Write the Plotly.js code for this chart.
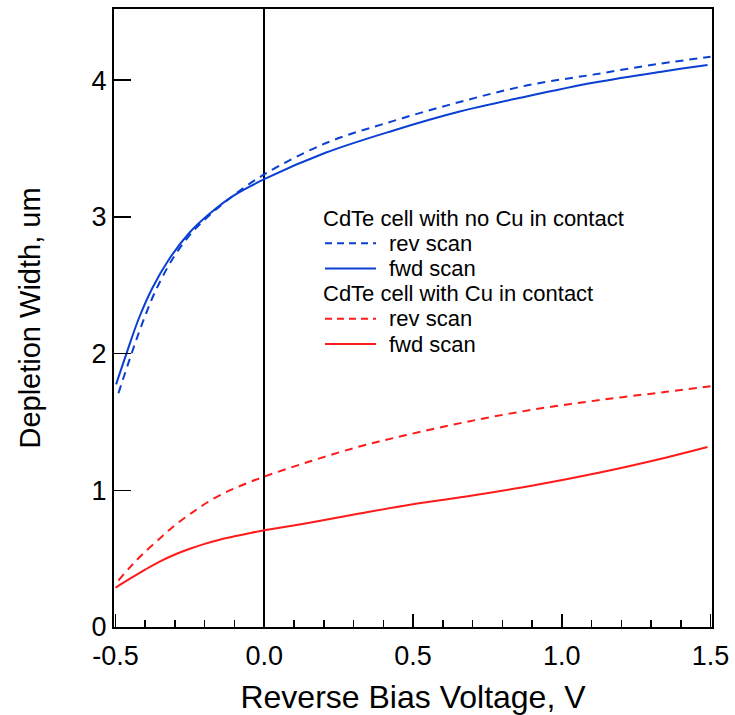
<!DOCTYPE html>
<html>
<head>
<meta charset="utf-8">
<script src="https://cdn.plot.ly/plotly-3.0.1.min.js"></script>
<style>html,body{margin:0;padding:0;background:#fff;}#chart{width:735px;height:715px;}</style>
</head>
<body>
<div id="chart"></div>
<script>
// Blue: CdTe cell with no Cu in contact
const noCuRevX = [-0.49, -0.449, -0.41, -0.365, -0.303, -0.241, -0.185, -0.107, 0.0, 0.208, 0.432, 0.657, 0.881, 1.105, 1.33, 1.5];
const noCuRevY = [1.71, 1.98, 2.22, 2.46, 2.71, 2.89, 3.01, 3.15, 3.31, 3.54, 3.70, 3.84, 3.96, 4.04, 4.12, 4.17];
const noCuFwdX = [-0.498, -0.46, -0.421, -0.376, -0.32, -0.253, -0.185, -0.107, 0.0, 0.208, 0.432, 0.657, 0.881, 1.105, 1.33, 1.49];
const noCuFwdY = [1.775, 2.02, 2.26, 2.48, 2.69, 2.88, 3.02, 3.15, 3.275, 3.47, 3.63, 3.77, 3.88, 3.98, 4.06, 4.11];
// Red: CdTe cell with Cu in contact
const cuRevX = [-0.49, -0.45, -0.41, -0.35, -0.297, -0.24, -0.185, -0.12, -0.06, 0.0, 0.152, 0.32, 0.47, 0.679, 0.903, 1.128, 1.352, 1.5];
const cuRevY = [0.34, 0.44, 0.53, 0.65, 0.75, 0.84, 0.92, 0.995, 1.05, 1.10, 1.21, 1.32, 1.40, 1.50, 1.59, 1.66, 1.72, 1.76];
const cuFwdX = [-0.5, -0.45, -0.4, -0.35, -0.3, -0.25, -0.2, -0.15, -0.1, -0.05, 0.0, 0.152, 0.32, 0.47, 0.679, 0.903, 1.128, 1.352, 1.49];
const cuFwdY = [0.287, 0.355, 0.42, 0.48, 0.53, 0.572, 0.608, 0.638, 0.663, 0.686, 0.707, 0.763, 0.83, 0.887, 0.955, 1.035, 1.13, 1.24, 1.316];

const xTickVals = [-0.5, 0, 0.5, 1, 1.5];
const xTickText = ["-0.5", "0.0", "0.5", "1.0", "1.5"];

const groupNoCu = "CdTe cell with no Cu in contact";
const groupCu = "CdTe cell with Cu in contact";
const seriesName = ["rev scan", "fwd scan"];

const BLUE = "#0a3fd2";
const RED = "#ff1a1a";
const DASH = "8px,6px";
const FONT = "Liberation Sans, Arial, sans-serif";

function tr(x, y, name, color, dash) {
  return {
    x: x, y: y, name: name, type: "scatter", mode: "lines", showlegend: false,
    line: {color: color, width: 2, dash: dash, shape: "spline", smoothing: 1}
  };
}

const data = [
  tr(noCuRevX, noCuRevY, seriesName[0], BLUE, DASH),
  tr(noCuFwdX, noCuFwdY, seriesName[1], BLUE, "solid"),
  tr(cuRevX, cuRevY, seriesName[0], RED, DASH),
  tr(cuFwdX, cuFwdY, seriesName[1], RED, "solid")
];

// Custom legend (text rows + key lines) in paper coordinates
const W = 735, H = 715, M = {l: 114, r: 23, t: 9, b: 88};
const PW = W - M.l - M.r, PH = H - M.t - M.b;
const px2x = p => (p - M.l) / PW;
const py2y = p => (H - M.b - p) / PH;
const legLeft = 322, legTop = 218, rowH = 25.2, keyL = 325, keyR = 376, itemLeft = 388;
const legendRows = [
  {text: groupNoCu, key: null},
  {text: seriesName[0], key: {color: BLUE, dash: "7px,5px"}},
  {text: seriesName[1], key: {color: BLUE, dash: "solid"}},
  {text: groupCu, key: null},
  {text: seriesName[0], key: {color: RED, dash: "7px,5px"}},
  {text: seriesName[1], key: {color: RED, dash: "solid"}}
];
const annotations = [], shapes = [];
legendRows.forEach((r, i) => {
  const yc = py2y(legTop + i * rowH);
  annotations.push({
    xref: "paper", yref: "paper", x: px2x(r.key ? itemLeft : legLeft), y: yc,
    xanchor: "left", yanchor: "middle", showarrow: false, text: r.text,
    borderpad: 0,
    font: {family: FONT, size: 22, color: "#000"}
  });
  if (r.key) {
    shapes.push({
      type: "line", xref: "paper", yref: "paper",
      x0: px2x(keyL), x1: px2x(keyR), y0: yc, y1: yc,
      line: {color: r.key.color, width: 2, dash: r.key.dash}
    });
  }
});

const layout = {
  width: W, height: H,
  margin: M,
  paper_bgcolor: "#fff", plot_bgcolor: "#fff",
  font: {family: FONT, color: "#000"},
  showlegend: false,
  annotations: annotations,
  shapes: shapes,
  xaxis: {
    range: [-0.505, 1.505], showgrid: false,
    zeroline: true, zerolinecolor: "#000", zerolinewidth: 1.5,
    showline: true, linecolor: "#000", linewidth: 2, mirror: true,
    ticks: "inside", ticklen: 13, tickwidth: 1.5, tickcolor: "#000",
    tickmode: "array", tickvals: xTickVals, ticktext: xTickText,
    ticklabelstandoff: 4,
    minor: {tickmode: "linear", tick0: -0.5, dtick: 0.1, ticks: "inside", ticklen: 7, tickwidth: 1.5, tickcolor: "#000", showgrid: false},
    tickfont: {family: FONT, size: 27, color: "#000"},
    title: {text: "Reverse Bias Voltage, V", font: {family: FONT, size: 32, color: "#000"}, standoff: 18}
  },
  yaxis: {
    range: [0, 4.52], showgrid: false, zeroline: false,
    showline: true, linecolor: "#000", linewidth: 2, mirror: true,
    ticks: "inside", ticklen: 17, tickwidth: 1.5, tickcolor: "#000",
    tick0: 0, dtick: 1,
    tickfont: {family: FONT, size: 27, color: "#000"},
    title: {text: "Depletion Width, um", font: {family: FONT, size: 29, color: "#000"}, standoff: 42}
  }
};

Plotly.newPlot("chart", data, layout, {displayModeBar: false, staticPlot: true});
</script>
</body>
</html>
